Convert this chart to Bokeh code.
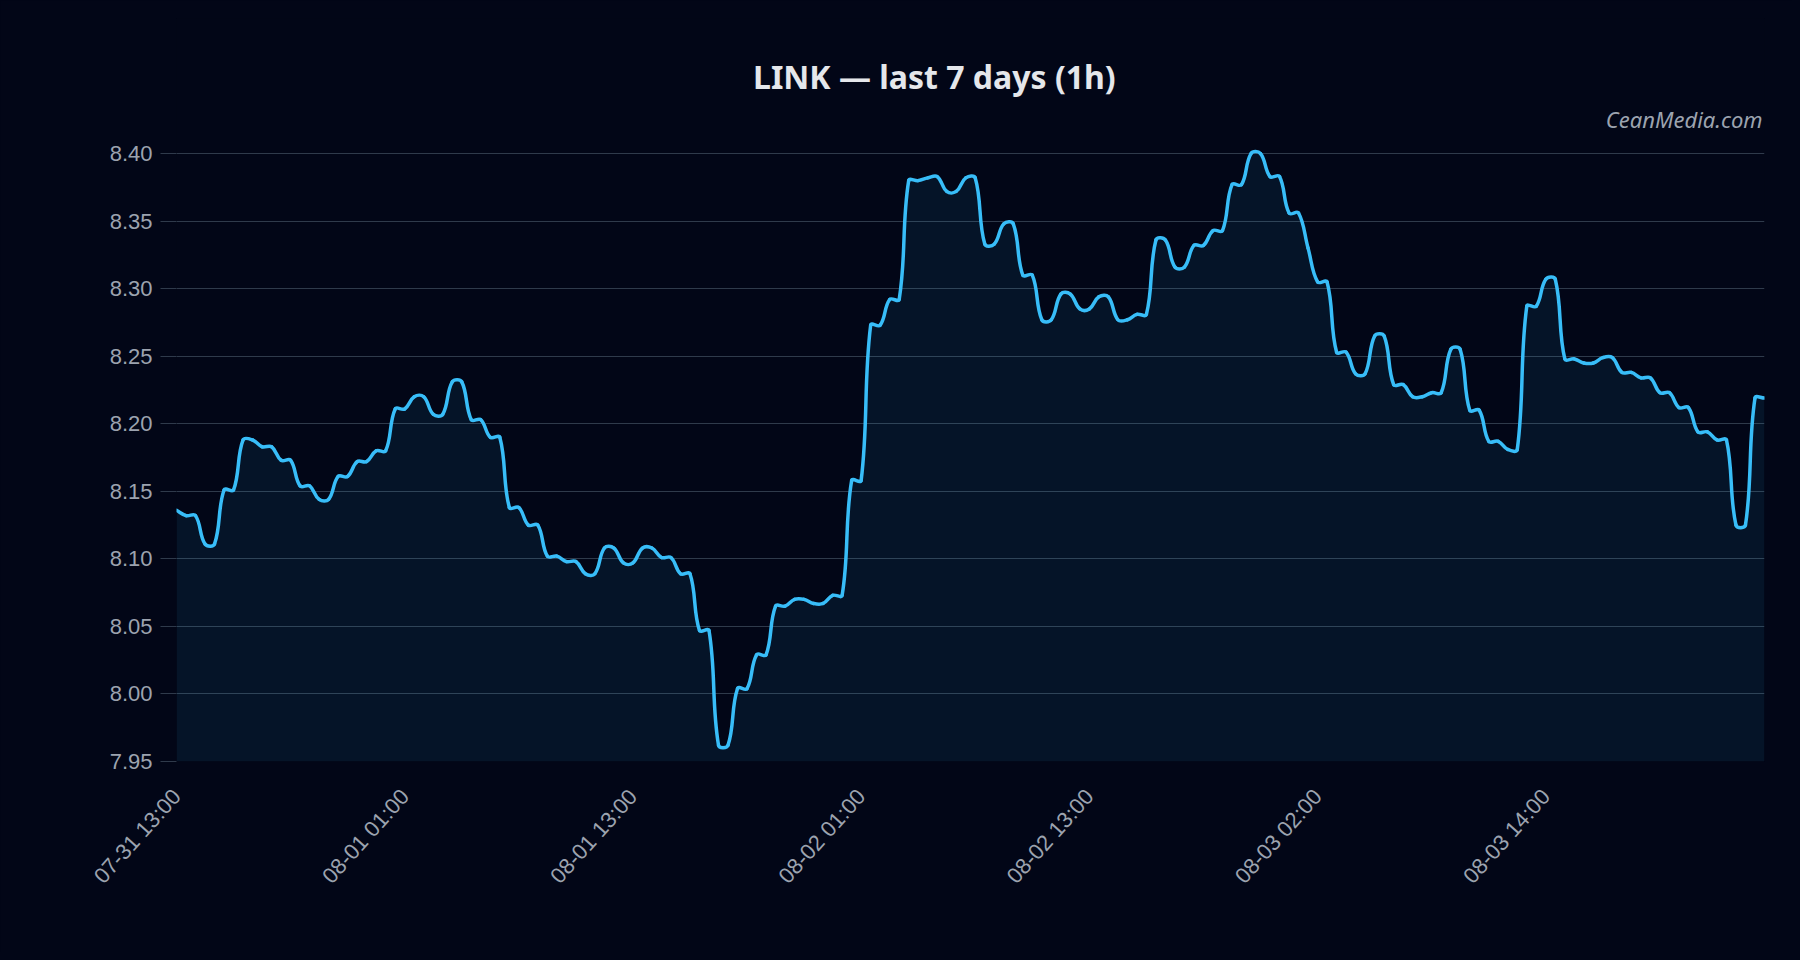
import numpy as np
from bokeh.plotting import figure
from bokeh.models import ColumnDataSource, FixedTicker, NumeralTickFormatter, Label, Range1d
from bokeh.embed import file_html
from bokeh.resources import INLINE

BG = "#020617"
LINE = "#38bdf8"
GRID = "#2f3a4b"
MUTED = "#9ca3af"

# LINK price, half-hour samples starting 07-31 13:00
price = [
    8.136,
    8.132, 8.132, 8.111, 8.111, 8.151, 8.151, 8.188, 8.188, 8.183, 8.183,
    8.173, 8.173, 8.154, 8.154, 8.144, 8.144, 8.161, 8.161, 8.172, 8.172,
    8.180, 8.180, 8.211, 8.211, 8.220, 8.220, 8.207, 8.207, 8.231, 8.231,
    8.203, 8.203, 8.190, 8.190, 8.138, 8.138, 8.125, 8.125, 8.102, 8.102,
    8.098, 8.098, 8.089, 8.089, 8.108, 8.108, 8.097, 8.097, 8.108, 8.108,
    8.101, 8.101, 8.089, 8.089, 8.047, 8.047, 7.962, 7.962, 8.004, 8.004,
    8.029, 8.029, 8.065, 8.065, 8.070, 8.070, 8.067, 8.067, 8.073, 8.073,
    8.158, 8.158, 8.273, 8.273, 8.292, 8.292, 8.380, 8.380, 8.382, 8.383,
    8.372, 8.372, 8.382, 8.382, 8.333, 8.333, 8.348, 8.348, 8.310, 8.310,
    8.277, 8.277, 8.296, 8.296, 8.285, 8.285, 8.294, 8.294, 8.277, 8.277,
    8.281, 8.281, 8.336, 8.336, 8.316, 8.316, 8.332, 8.332, 8.343, 8.343,
    8.377, 8.377, 8.400, 8.400, 8.383, 8.383, 8.356, 8.356,
    8.330,
    8.305, 8.305, 8.253, 8.253, 8.237, 8.237, 8.265, 8.265, 8.229, 8.229,
    8.220, 8.220, 8.223, 8.223, 8.255, 8.255, 8.210, 8.210, 8.187, 8.187,
    8.181, 8.181, 8.287, 8.287, 8.307, 8.307, 8.248, 8.248, 8.245, 8.245,
    8.249, 8.249, 8.238, 8.238, 8.234, 8.234, 8.223, 8.223, 8.212, 8.212,
    8.194, 8.194, 8.188, 8.188, 8.125, 8.125, 8.219, 8.219,
]

tick_idx = [0, 24, 48, 72, 96, 120, 144]
tick_labels = ["07-31 13:00", "08-01 01:00", "08-01 13:00", "08-02 01:00",
               "08-02 13:00", "08-03 02:00", "08-03 14:00"]
y_ticks = [7.95, 8.00, 8.05, 8.10, 8.15, 8.20, 8.25, 8.30, 8.35, 8.40]

W, H = 1792, 952
LEFT, RIGHT, TOP, BOTTOM = 176, 28, 18, 191
Y0, Y1 = 7.95, 8.50   # top part of the frame holds the title, no ticks there

x = np.arange(len(price), dtype=float)
y = np.array(price)
n = len(y)

# smoothed line, spline with tension 0.4 (distances taken in screen pixels)
TENSION = 0.4
kx = (W - LEFT - RIGHT) / (n - 1)
ky = (H - TOP - BOTTOM) / (Y1 - Y0)
cpx_prev = np.zeros(n); cpy_prev = np.zeros(n)
cpx_next = np.zeros(n); cpy_next = np.zeros(n)
for i in range(n):
    a, b = max(i - 1, 0), min(i + 1, n - 1)
    d01 = np.hypot((x[i] - x[a]) * kx, (y[i] - y[a]) * ky)
    d12 = np.hypot((x[b] - x[i]) * kx, (y[b] - y[i]) * ky)
    tot = d01 + d12
    fa = TENSION * d01 / tot if tot else 0
    fb = TENSION * d12 / tot if tot else 0
    dx, dy = x[b] - x[a], y[b] - y[a]
    cpx_prev[i], cpy_prev[i] = x[i] - fa * dx, y[i] - fa * dy
    cpx_next[i], cpy_next[i] = x[i] + fb * dx, y[i] + fb * dy

seg = ColumnDataSource(data=dict(
    x0=x[:-1], y0=y[:-1], x1=x[1:], y1=y[1:],
    cx0=cpx_next[:-1], cy0=cpy_next[:-1],
    cx1=cpx_prev[1:], cy1=cpy_prev[1:],
))
pts = ColumnDataSource(data=dict(x=x, price=y))

p = figure(
    width=W, height=H,
    x_range=Range1d(0, n - 1), y_range=Range1d(Y0, Y1),
    output_backend="svg", toolbar_location=None,
    min_border_left=LEFT, min_border_right=RIGHT, min_border_top=TOP, min_border_bottom=BOTTOM,
)
p.background_fill_color = BG
p.border_fill_color = BG
p.outline_line_color = None

p.varea(x="x", y1=Y0, y2="price", source=pts, fill_color=LINE, fill_alpha=0.08)
p.bezier(x0="x0", y0="y0", x1="x1", y1="y1", cx0="cx0", cy0="cy0", cx1="cx1", cy1="cy1",
         source=seg, line_color=LINE, line_width=3.5, line_cap="round", line_join="round")

p.xgrid.grid_line_color = None
p.ygrid.grid_line_color = GRID
p.ygrid.grid_line_width = 1.2

p.yaxis.ticker = FixedTicker(ticks=y_ticks)
p.yaxis.formatter = NumeralTickFormatter(format="0.00")
p.yaxis.major_label_text_font = "Liberation Sans"
p.yaxis.major_label_text_font_size = "22px"
p.yaxis.major_label_text_color = MUTED
p.yaxis.major_tick_out = 16
p.yaxis.major_tick_in = 0
p.yaxis.major_tick_line_color = GRID
p.yaxis.major_tick_line_width = 1.2
p.yaxis.minor_tick_line_color = None
p.yaxis.axis_line_color = None
p.yaxis.major_label_standoff = 8

p.xaxis.ticker = FixedTicker(ticks=tick_idx)
p.xaxis.major_label_overrides = {i: lbl for i, lbl in zip(tick_idx, tick_labels)}
p.xaxis.major_label_orientation = 0.84
p.xaxis.major_label_text_font = "Liberation Sans"
p.xaxis.major_label_text_font_size = "22px"
p.xaxis.major_label_text_color = MUTED
p.xaxis.major_tick_out = 0
p.xaxis.major_tick_in = 0
p.xaxis.major_tick_line_color = None
p.xaxis.minor_tick_line_color = None
p.xaxis.axis_line_color = None
p.xaxis.major_label_standoff = 31

p.add_layout(Label(x=79.7, y=8.4571, text="LINK — last 7 days (1h)",
                   text_font="Noto Sans", text_font_style="bold", text_font_size="32px",
                   text_color="#e5e7eb", text_align="center", text_baseline="alphabetic"))
p.add_layout(Label(x=166.8, y=8.4255, text="CeanMedia.com",
                   text_font="Noto Sans", text_font_style="italic", text_font_size="22px",
                   text_color=MUTED, text_align="right", text_baseline="alphabetic"))

html = file_html(p, INLINE, title="LINK")
html = html.replace("</head>", "<style>html, body { background: #020617; }</style></head>", 1)
open("out.html", "w").write(html)
